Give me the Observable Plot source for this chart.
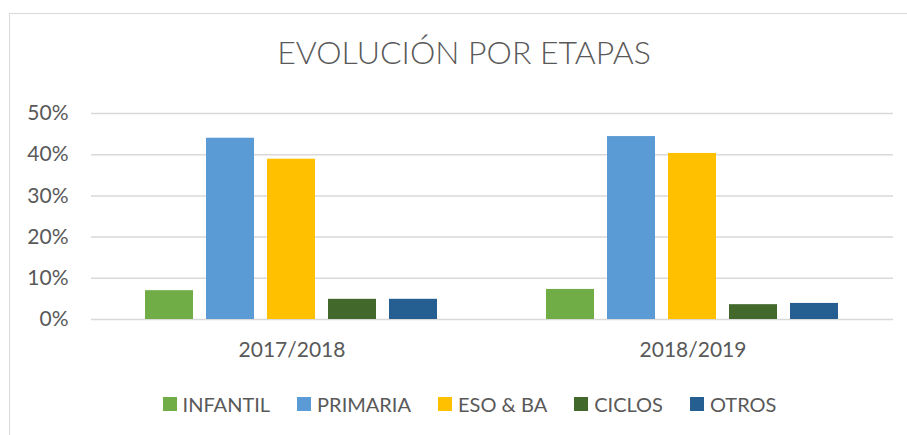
<!DOCTYPE html>
<html>
<head>
<meta charset="utf-8">
<script src="https://cdn.jsdelivr.net/npm/d3@7"></script>
<script src="https://cdn.jsdelivr.net/npm/@observablehq/plot@0.6"></script>
<style>
  html, body { margin: 0; padding: 0; background: #fff; }
  #wrap { position: relative; width: 907px; height: 435px; overflow: hidden; font-family: Lato, "Open Sans", sans-serif; color: #595959; }
  #frame { position: absolute; left: 9px; top: 13px; width: 940px; height: 460px; border-left: 1.5px solid #d9d9d9; border-top: 1.5px solid #d9d9d9; box-sizing: border-box; }
  #title { position: absolute; left: 0; top: 32px; width: 928px; text-align: center; font-size: 32px; font-weight: 300; line-height: 40px; }
  #chart { position: absolute; left: 0; top: 95px; }
  #legend { position: absolute; left: 0; top: 392px; width: 939px; display: flex; justify-content: center; gap: 27px; font-size: 20px; line-height: 24px; }
  .item { display: flex; align-items: center; gap: 6px; }
  .sw { width: 14px; height: 14px; display: inline-block; }
</style>
</head>
<body>
<div id="wrap">
  <div id="frame"></div>
  <div id="title">EVOLUCIÓN POR ETAPAS</div>
  <div id="chart"></div>
  <div id="legend"></div>
</div>
<script>
const years = ["2017/2018", "2018/2019"];
const etapas = ["INFANTIL", "PRIMARIA", "ESO & BA", "CICLOS", "OTROS"];
const values2017 = [0.070, 0.440, 0.389, 0.049, 0.049];
const values2018 = [0.073, 0.444, 0.403, 0.036, 0.039];
const colors = ["#70AD47", "#5B9BD5", "#FFC000", "#43682B", "#255E91"];
const yTicks = [0, 0.1, 0.2, 0.3, 0.4, 0.5];

const data = [];
etapas.forEach((e, i) => {
  data.push({year: years[0], etapa: e, value: values2017[i]});
  data.push({year: years[1], etapa: e, value: values2018[i]});
});

const chart = Plot.plot({
  width: 907,
  height: 275,
  marginLeft: 90,
  marginRight: 14,
  marginTop: 18,
  marginBottom: 51,
  style: {fontFamily: "Lato, 'Open Sans', sans-serif", fontSize: "21px", color: "#595959", background: "transparent"},
  fx: {domain: years, padding: 0, label: null, axis: "bottom", tickSize: 0, tickPadding: 23},
  x: {domain: etapas, paddingInner: 0.21, paddingOuter: 0.87, axis: null},
  y: {domain: [0, 0.5], ticks: yTicks, tickFormat: d3.format(".0%"), tickSize: 0, tickPadding: 23, label: null},
  color: {domain: etapas, range: colors},
  marks: [
    Plot.gridY(yTicks, {stroke: "#d9d9d9", strokeOpacity: 1, strokeWidth: 1.5}),
    Plot.barY(data, {fx: "year", x: "etapa", y: "value", fill: "etapa"})
  ]
});
document.getElementById("chart").appendChild(chart);

const legend = document.getElementById("legend");
etapas.forEach((e, i) => {
  const it = document.createElement("div");
  it.className = "item";
  const sw = document.createElement("span");
  sw.className = "sw";
  sw.style.background = colors[i];
  const t = document.createElement("span");
  t.textContent = e;
  it.appendChild(sw);
  it.appendChild(t);
  legend.appendChild(it);
});
</script>
</body>
</html>
